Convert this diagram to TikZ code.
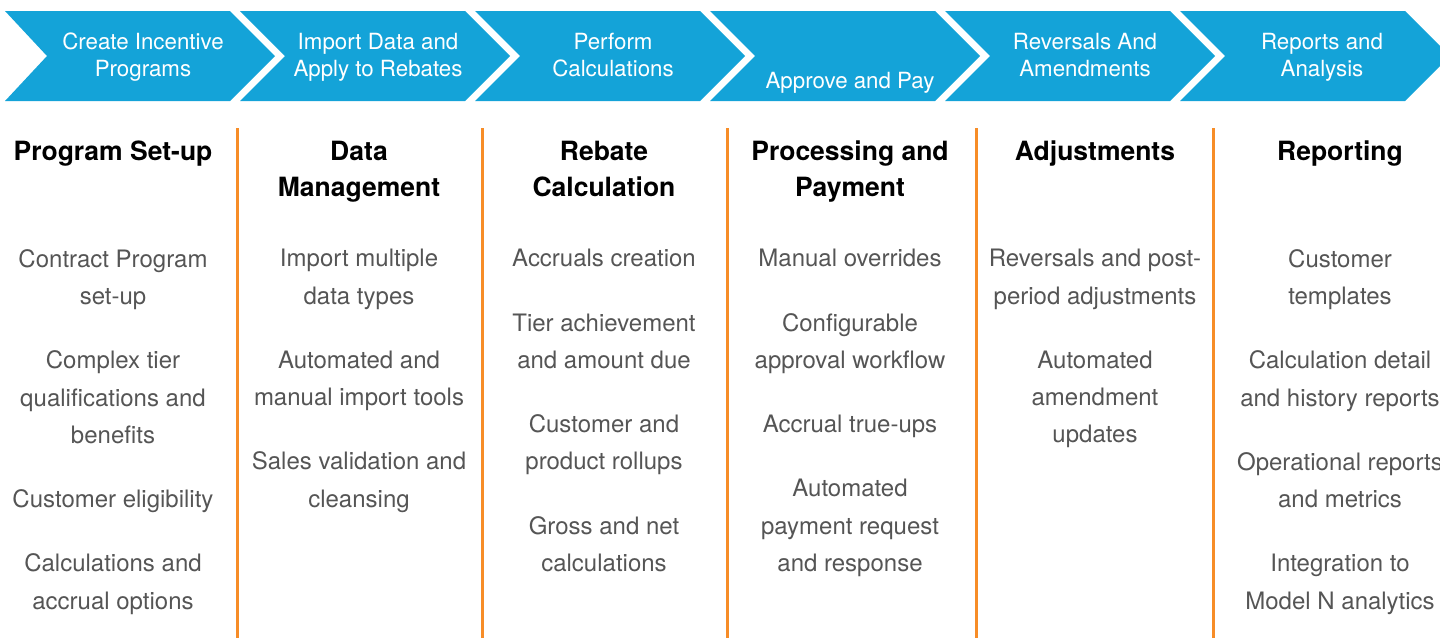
\documentclass[tikz,border=0pt]{standalone}
\usepackage{fontspec}
\setmainfont{TeX Gyre Heros}
\usepackage{tikz}
\usepackage{xcolor}
\definecolor{stepblue}{RGB}{20,163,216}
\definecolor{lineorange}{RGB}{247,141,40}
\definecolor{itemgray}{RGB}{85,85,85}

\begin{document}
\begin{tikzpicture}[x=1pt,y=-1pt,
    chev/.style={fill=stepblue},
    chevtext/.style={anchor=north,inner sep=0pt,align=center,text=white,font=\fontsize{22.3}{27}\selectfont},
    head/.style={anchor=north,inner sep=0pt,align=center,font=\fontsize{26.5}{36}\selectfont\bfseries},
    items/.style={anchor=north,inner sep=0pt,align=center,text=itemgray,font=\fontsize{24}{37.3}\selectfont},
    sep/.style={draw=lineorange,line width=3pt}]
                    \useasboundingbox (0,0) rectangle (1440,638);
                    % process arrows
                    \fill[chev] (5,11)--(230,11)--(275,56)--(230,101)--(5,101)--(47,56)--cycle;
                    \fill[chev] (240,11)--(465,11)--(510,56)--(465,101)--(240,101)--(285,56)--cycle;
                    \fill[chev] (475,11)--(700,11)--(745,56)--(700,101)--(475,101)--(520,56)--cycle;
                    \fill[chev] (710,11)--(935,11)--(980,56)--(935,101)--(710,101)--(755,56)--cycle;
                    \fill[chev] (945,11)--(1170,11)--(1215,56)--(1170,101)--(945,101)--(990,56)--cycle;
                    \fill[chev] (1180,11)--(1405,11)--(1450,56)--(1405,101)--(1180,101)--(1225,56)--cycle;
                    \node[chevtext] (step1) at (143,33){Create Incentive\\Programs};
                    \node[chevtext] (step2) at (378,33){Import Data and\\Apply to Rebates};
                    \node[chevtext] (step3) at (613,33){Perform\\Calculations};
                    \node[chevtext] (step4) at (850,72){Approve and Pay};
                    \node[chevtext] (step5) at (1085,33){Reversals And\\Amendments};
                    \node[chevtext] (step6) at (1322,33){Reports and\\Analysis};
                    % column rules
                    \draw[sep] (237,128)--(237,638);
                    \draw[sep] (482,128)--(482,638);
                    \draw[sep] (727,128)--(727,638);
                    \draw[sep] (976,128)--(976,638);
                    \draw[sep] (1213,128)--(1213,638);
                    % headings
                    \node[head] (head1) at (113,141){Program Set-up};
                    \node[head] (head2) at (359,141){Data\\Management};
                    \node[head] (head3) at (604,141){Rebate\\Calculation};
                    \node[head] (head4) at (850,141){Processing and\\Payment};
                    \node[head] (head5) at (1095,141){Adjustments};
                    \node[head] (head6) at (1340,141){Reporting};
                    % feature lists
                    \node[items] (list1) at (113,249){Contract Program\\set-up\\[27pt]Complex tier\\qualifications and\\benefits\\[27pt]Customer eligibility\\[27pt]Calculations and\\accrual options};
                    \node[items] (list2) at (359,249){Import multiple\\data types\\[27pt]Automated and\\manual import tools\\[27pt]Sales validation and\\cleansing};
                    \node[items] (list3) at (604,249){Accruals creation\\[27pt]Tier achievement\\and amount due\\[27pt]Customer and\\product rollups\\[27pt]Gross and net\\calculations};
                    \node[items] (list4) at (850,249){Manual overrides\\[27pt]Configurable\\approval workflow\\[27pt]Accrual true-ups\\[27pt]Automated\\payment request\\and response};
                    \node[items] (list5) at (1095,249){Reversals and post-\\period adjustments\\[27pt]Automated\\amendment\\updates};
                    \node[items] (list6) at (1340,249){Customer\\templates\\[27pt]Calculation detail\\and history reports\\[27pt]Operational reports\\and metrics\\[27pt]Integration to\\Model N analytics};
                \end{tikzpicture}
\end{document}
